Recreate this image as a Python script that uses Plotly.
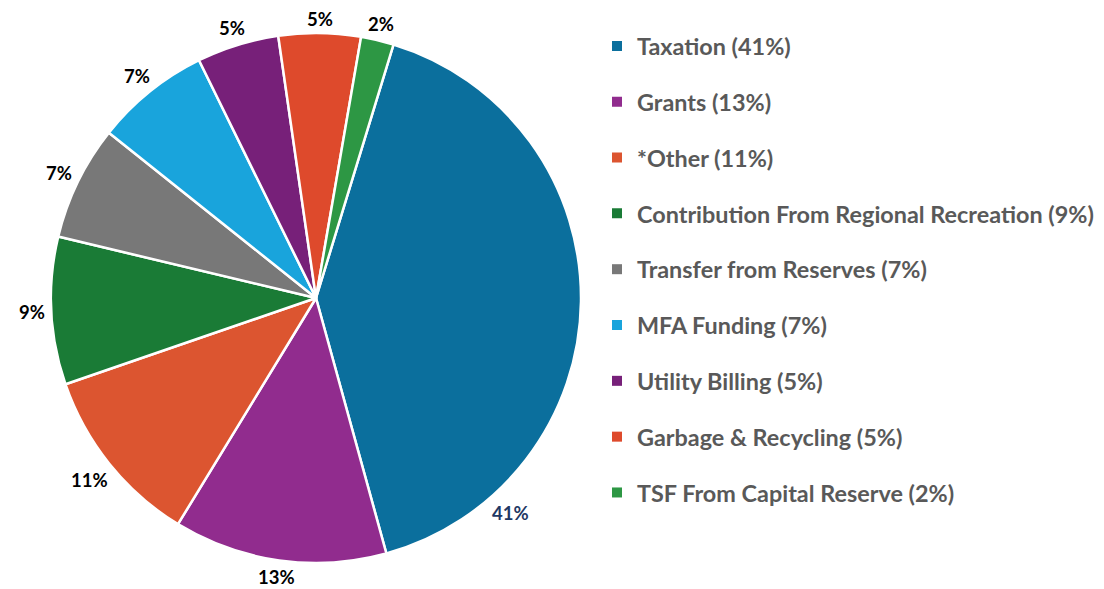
import math
import plotly.graph_objects as go

labels = ["Taxation", "Grants", "*Other", "Contribution From Regional Recreation",
          "Transfer from Reserves", "MFA Funding", "Utility Billing",
          "Garbage & Recycling", "TSF From Capital Reserve"]
values = [41, 13, 11, 9, 7, 7, 5, 5, 2]
colors = ["#0b6f9d", "#912c8e", "#dc5530", "#1a7b36", "#787878",
          "#19a4dc", "#772079", "#de4a2c", "#2d9744"]

FONT = "Lato"
total = sum(values)
rotation = 17

# page is 1104x589; the html body adds an 8px offset, so the figure is 1096x581
OFF = 8
FW, FH = 1104 - OFF, 589 - OFF
cx, cy, R = 316, 298, 265          # pie centre/radius in page pixels


def to_paper(px, py):
    return (px - OFF) / FW, 1 - (py - OFF) / FH


x0, y1 = to_paper(cx - R, cy - R)
x1, y0 = to_paper(cx + R, cy + R)

fig = go.Figure()
fig.add_trace(go.Pie(
    labels=labels, values=values, sort=False, direction="clockwise",
    rotation=rotation, domain=dict(x=[x0, x1], y=[y0, y1]),
    marker=dict(colors=colors, line=dict(color="white", width=2.5)),
    textinfo="none", showlegend=False, hoverinfo="label+percent",
))

# legend entries built from the same data
for i, (lab, v, c) in enumerate(zip(labels, values, colors)):
    pct = round(100 * v / total)
    fig.add_trace(go.Scatter(
        x=[None], y=[None], mode="markers",
        marker=dict(symbol="square", size=10, color=c),
        name=f"{lab} ({pct}%)", legendgroup=f"g{i}", showlegend=True,
    ))

# percentage labels just outside the rim, at each slice's mid-angle
angle_nudge = {0: 47}          # the big-slice label sits low on its rim
label_colors = {0: "#1f3864"}
cum = 0
for i, v in enumerate(values):
    mid = rotation + 360 * (cum + v / 2) / total + angle_nudge.get(i, 0)
    cum += v
    a = math.radians(mid)
    txt = f"{round(100 * v / total)}%"
    hw, hh = 6.5 * len(txt), 8
    d = R + 6 + abs(math.sin(a)) * hw + abs(math.cos(a)) * hh
    ax, ay = to_paper(cx + d * math.sin(a), cy - d * math.cos(a))
    fig.add_annotation(x=ax, y=ay, xref="paper", yref="paper",
                       xanchor="center", yanchor="middle", borderpad=0,
                       text=txt, showarrow=False,
                       font=dict(family=FONT, size=18.5, weight="bold",
                                 color=label_colors.get(i, "black")))

lx, ly = to_paper(597, 24.2)
fig.update_layout(
    width=FW, height=FH,
    margin=dict(l=0, r=0, t=0, b=0, autoexpand=False),
    paper_bgcolor="white", plot_bgcolor="white",
    xaxis=dict(visible=False), yaxis=dict(visible=False),
    legend=dict(x=lx, y=ly, xanchor="left", yanchor="top",
                font=dict(family=FONT, size=23.4, color="#595959", weight="bold"),
                tracegroupgap=22.4, bgcolor="rgba(0,0,0,0)"),
)
fig.write_html("out.html")
